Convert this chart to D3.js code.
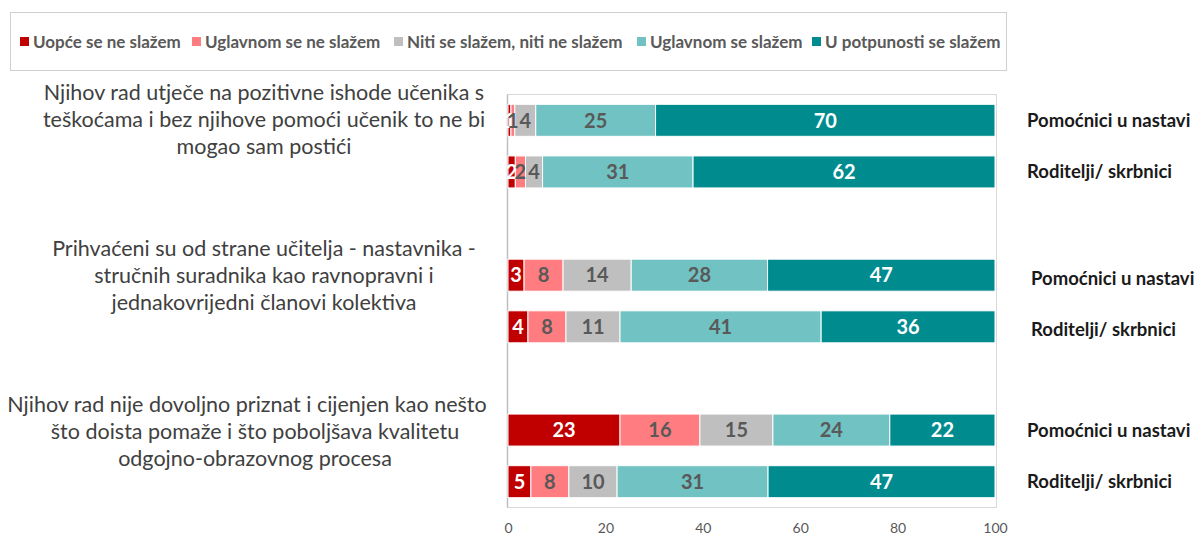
<!DOCTYPE html>
<html><head><meta charset="utf-8">
<script src="https://cdn.jsdelivr.net/npm/d3@7"></script>
<style>
body{margin:0;background:#fff;}
svg{display:block;font-family:Lato, "Open Sans", sans-serif;}
</style></head>
<body>
<svg id="c" width="1200" height="539"></svg>
<script>
const seriesNames = ["Uopće se ne slažem","Uglavnom se ne slažem","Niti se slažem, niti ne slažem","Uglavnom se slažem","U potpunosti se slažem"];
const seriesColors = ["#C00000","#FF7C80","#BFBFBF","#71C2C2","#008B8F"];
const labelColors = ["#ffffff","#595959","#595959","#595959","#ffffff"];
const groups = [
  ["Njihov rad utječe na pozitivne ishode učenika s","teškoćama i bez njihove pomoći učenik to ne bi","mogao sam postići"],
  ["Prihvaćeni su od strane učitelja - nastavnika -","stručnih suradnika kao ravnopravni i","jednakovrijedni članovi kolektiva"],
  ["Njihov rad nije dovoljno priznat i cijenjen kao nešto","što doista pomaže i što poboljšava kvalitetu","odgojno-obrazovnog procesa"]
];
const respondents = ["Pomoćnici u nastavi","Roditelji/ skrbnici"];
// values per bar (group, respondent)
const g1P = [0.6, 0.8, 4.3, 24.6, 69.7];
const g1R = [1.5, 2.1, 3.5, 30.9, 62.0];
const g2P = [3.3, 8.0, 14.0, 28.0, 46.7];
const g2R = [4.1, 7.8, 11.1, 41.3, 35.7];
const g3P = [23.0, 16.4, 15.0, 24.0, 21.6];
const g3R = [4.7, 7.8, 9.9, 31.0, 46.6];
const barLabels = [
  [1,1,4,25,70],[2,2,4,31,62],
  [3,8,14,28,47],[4,8,11,41,36],
  [23,16,15,24,22],[5,8,10,31,47]
];
const xTicks = [0,20,40,60,80,100];

const bars = [
  {key:"g1P", g:0, r:0, v:g1P, l:barLabels[0]},
  {key:"g1R", g:0, r:1, v:g1R, l:barLabels[1]},
  {key:"g2P", g:1, r:0, v:g2P, l:barLabels[2]},
  {key:"g2R", g:1, r:1, v:g2R, l:barLabels[3]},
  {key:"g3P", g:2, r:0, v:g3P, l:barLabels[4]},
  {key:"g3R", g:2, r:1, v:g3R, l:barLabels[5]}
];
const slots = ["g1P","g1R","gap1","g2P","g2R","gap2","g3P","g3R"];

const svg = d3.select("#c");
const plot = {l:507.5, r:996.5, t:94.5, b:507.5};
const x = d3.scaleLinear().domain([0,100]).range([508,995]);
const y = d3.scaleBand().domain(slots).range([plot.t, plot.b]).paddingInner(0.38).paddingOuter(0.19);

// legend box
svg.append("rect").attr("x",10.5).attr("y",12.5).attr("width",996).attr("height",58)
  .attr("fill","#fff").attr("stroke","#D0D0D0").attr("stroke-width",1);
const legX = [20, 192, 394, 637, 812];
const lg = svg.append("g");
seriesNames.forEach((n,i)=>{
  const g = lg.append("g").attr("transform",`translate(${legX[i]},42)`);
  g.append("rect").attr("x",0).attr("y",-5).attr("width",9).attr("height",9).attr("fill",seriesColors[i]);
  g.append("text").attr("x",13).attr("y",0).attr("dy","0.35em").attr("font-size",17).attr("font-weight","bold")
    .attr("fill","#595959").text(n);
});

// plot area border
svg.append("rect").attr("x",plot.l).attr("y",plot.t).attr("width",plot.r-plot.l).attr("height",plot.b-plot.t)
  .attr("fill","none").attr("stroke","#D9D9D9");
// y axis line
svg.append("line").attr("x1",plot.l).attr("x2",plot.l).attr("y1",plot.t).attr("y2",plot.b).attr("stroke","#BFBFBF").attr("stroke-width",1.5);

// bars
bars.forEach(b=>{
  let acc = 0;
  const g = svg.append("g");
  b.v.forEach((v,i)=>{
    const x0 = x(acc), x1 = x(acc+v);
    g.append("rect").attr("x",x0).attr("y",y(b.key)).attr("width",x1-x0).attr("height",y.bandwidth())
      .attr("fill",seriesColors[i]).attr("stroke","#fff").attr("stroke-width",1);
    acc += v;
  });
  acc = 0;
  b.v.forEach((v,i)=>{
    const cx = x(acc+v/2);
    g.append("text").attr("x",cx).attr("y",y(b.key)+y.bandwidth()/2).attr("dy","0.36em")
      .attr("text-anchor","middle").attr("font-size",20).attr("font-weight","bold")
      .attr("fill",labelColors[i]).text(b.l[i]);
    acc += v;
  });
  // right label
  const rx = b.g===1 ? 1031 : 1027;
  svg.append("text").attr("x",rx).attr("y",y(b.key)+y.bandwidth()/2 + (b.g===1 ? 3 : 0)).attr("dy","0.35em")
    .attr("font-size",18.5).attr("font-weight","bold").attr("fill","#1a1a1a").text(respondents[b.r]);
});

// left category labels
const centers = [264, 264, 247];
groups.forEach((lines,gi)=>{
  const t = svg.append("text").attr("text-anchor","middle").attr("font-size",21.5).attr("fill","#404040");
  lines.forEach((ln,li)=>{
    t.append("tspan").attr("x", gi===2 && li>0 ? 255 : centers[gi]).attr("y", [92,248,404][gi] + li*27).attr("dy","0.35em").text(ln);
  });
});

// x axis
const xa = svg.append("g").attr("transform",`translate(0,${plot.b})`)
  .call(d3.axisBottom(x).tickValues(xTicks).tickSize(0).tickPadding(16));
xa.select(".domain").remove();
xa.selectAll("text").attr("font-size",14).attr("fill","#595959").attr("font-family","Lato, 'Open Sans', sans-serif");
</script>
</body></html>
